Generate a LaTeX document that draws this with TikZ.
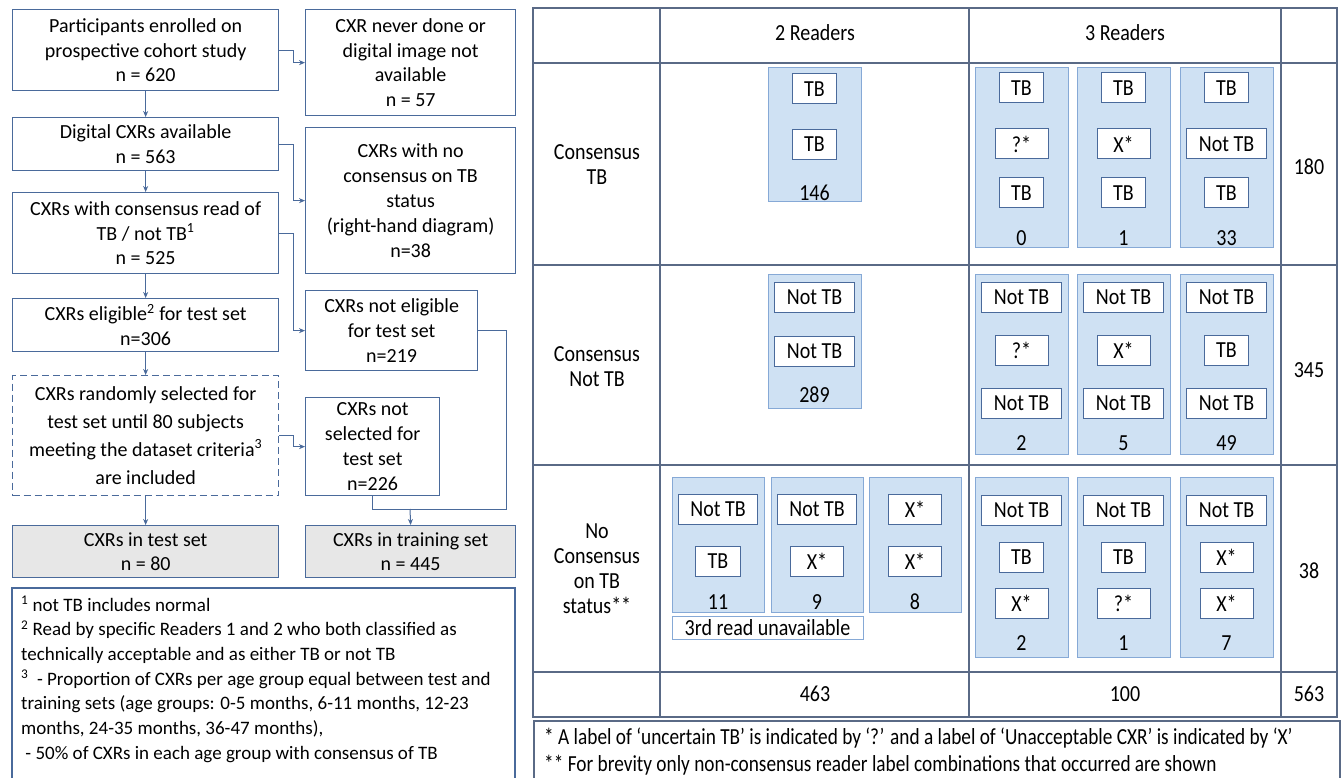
\documentclass[tikz,border=0pt]{standalone}
\usepackage{fontspec}
\setmainfont{Carlito}
\usepackage{graphicx}
\usetikzlibrary{arrows.meta}
\definecolor{bline}{HTML}{4A6A9B}
\definecolor{pfill}{HTML}{CFE1F3}
\definecolor{pline}{HTML}{86A9D6}
\definecolor{gfill}{HTML}{E7E7E7}
\definecolor{tline}{HTML}{5A6A86}
\newcommand\flowfont{\fontsize{20}{24.8}\selectfont}
\newcommand\hfont{\fontsize{20}{28}\selectfont}
\newcommand\notefont{\fontsize{19}{24.7}\selectfont}
\newcommand\tabfont{\fontsize{20}{21.7}\selectfont}
\newcommand\vsc[1]{\scalebox{1}[1.15]{#1}}
\newcommand\vsn[1]{\scalebox{0.965}[1.15]{#1}}
\begin{document}
\begin{tikzpicture}[x=1pt,y=-1pt,
  flow/.style={draw=bline, line width=1.3pt, fill=white, align=center, inner sep=0pt, anchor=north west, font=\flowfont},
  grey/.style={flow, fill=gfill},
  arr/.style={draw=bline, line width=1pt, -{Stealth[length=6pt,width=5pt]}},
  conn/.style={draw=bline, line width=1pt},
  tab/.style={draw=tline, line width=1.2pt},
  panel/.style={draw=pline, fill=pfill, line width=1pt},
  lbl/.style={draw=bline, fill=white, line width=1pt, minimum height=30, inner xsep=12, inner ysep=0, font=\tabfont},
  sym/.style={lbl, minimum width=53},
  num/.style={inner sep=0pt, font=\tabfont},
  ttxt/.style={inner sep=0pt, font=\tabfont, align=center}]
\useasboundingbox (0,0) rectangle (1341,778);
\fill[white] (0,0) rectangle (1341,778);

% ---------------- left flowchart ----------------
\node[flow, minimum width=266, minimum height=81] (A) at (12,9) {Participants enrolled on\\prospective cohort study\\n = 620};
\node[flow, minimum width=210, minimum height=106] (B) at (305,9) {CXR never done or\\digital image not\\available\\n = 57};
\node[flow, minimum width=266, minimum height=53] (C) at (12,117) {Digital CXRs available\\n = 563};
\node[flow, minimum width=210, minimum height=146] (D) at (305,127) {CXRs with no\\consensus on TB\\status\\(right-hand diagram)\\n=38};
\node[flow, minimum width=266, minimum height=81] (E) at (12,192) {CXRs with consensus read of\\TB / not TB\textsuperscript{1}\\n = 525};
\node[flow, minimum width=266, minimum height=53] (F) at (12,298) {CXRs eligible\textsuperscript{2} for test set\\n=306};
\node[flow, minimum width=172, minimum height=80] (G) at (305,290) {CXRs not eligible\\for test set\\n=219};
\node[flow, dash pattern=on 7pt off 4pt, minimum width=266, minimum height=120, font=\hfont] (H) at (12,375) {CXRs randomly selected for\\test set until 80 subjects\\meeting the dataset criteria\textsuperscript{3}\\are included};
\node[flow, minimum width=134, minimum height=98] (I) at (305,397) {CXRs not\\selected for\\test set\\n=226};
\node[grey, minimum width=266, minimum height=52] (J) at (12,525) {CXRs in test set\\n = 80};
\node[grey, minimum width=210, minimum height=52] (K) at (305,525) {CXRs in training set\\n = 445};

\draw[arr] (A.south) -- (C.north);
\draw[arr] (C.south) -- (E.north);
\draw[arr] (E.south) -- (F.north);
\draw[arr] (F.south) -- (H.north);
\draw[arr] (H.south) -- (J.north);
\draw[arr] (A.east) -- ++(14,0) |- (B.west);
\draw[arr] (C.east) -- ++(14,0) |- (D.west);
\draw[arr] (E.east) -- ++(14,0) |- (G.west);
\draw[arr] (H.east) -- ++(14,0) |- (I.west);
\coordinate (jn) at (410,509);
\draw[conn] (G.east) -- ++(28,0) |- (jn);
\draw[conn] (I.south) |- (jn);
\draw[arr] (jn) -- (K.north);

% left notes
\draw[draw=bline, line width=1.2pt] (12,779) -- (12,588) -- (515,588) -- (515,779);
\node[inner sep=0pt, anchor=north west, align=left, font=\notefont] (notesL) at (21,596) {%
\textsuperscript{1} not TB includes normal\\
\textsuperscript{2} Read by specific Readers 1 and 2 who both classified as\\
technically acceptable and as either TB or not TB\\
\textsuperscript{3}\ \ - Proportion of CXRs per age group equal between test and\\
training sets (age groups: 0-5 months, 6-11 months, 12-23\\
months, 24-35 months, 36-47 months),\\
\ - 50\% of CXRs in each age group with consensus of TB};

% ---------------- right table ----------------
\draw[tab] (533,8) rectangle (1337,717);
\foreach \xx in {660,969,1281} \draw[tab] (\xx,8) -- (\xx,717);
\foreach \yy in {63,265,465,672} \draw[tab] (533,\yy) -- (1337,\yy);

\node[num] (h2) at (815,33) {\vsc{2 Readers}};
\node[num] (h3) at (1125,33) {\vsc{3 Readers}};
\node[ttxt] (rl1) at (597,167) {\vsc{\begin{tabular}{@{}c@{}}Consensus\\TB\end{tabular}}};
\node[ttxt] (rl2) at (597,369) {\vsc{\begin{tabular}{@{}c@{}}Consensus\\Not TB\end{tabular}}};
\node[ttxt] (rl3) at (597,571) {\vsc{\begin{tabular}{@{}c@{}}No\\Consensus\\on TB\\status**\end{tabular}}};
\node[num] (t1) at (1309,167) {\vsc{180}};
\node[num] (t2) at (1309,370) {\vsc{345}};
\node[num] (t3) at (1309,571) {\vsc{38}};
\node[num] (t4) at (1309,694) {\vsc{563}};
\node[num] (s2) at (815,694) {\vsc{463}};
\node[num] (s3) at (1125,694) {\vsc{100}};

% row 1
\draw[panel] (768,68) rectangle (861,202);
\node[lbl] (a11) at (814.5,89) {\vsc{TB}};
\node[lbl] (a12) at (814.5,144.5) {\vsc{TB}};
\node[num] (a1n) at (814.5,193) {\vsc{146}};
\draw[panel] (975,68) rectangle (1068,247);
\draw[panel] (1077,68) rectangle (1170,247);
\draw[panel] (1180,68) rectangle (1273,247);
\node[lbl] (b11) at (1021.5,88) {\vsc{TB}};
\node[sym] (b12) at (1021.5,144) {\vsc{?*}};
\node[lbl] (b13) at (1021.5,193) {\vsc{TB}};
\node[num] (b1n) at (1021.5,238) {\vsc{0}};
\node[lbl] (c11) at (1123.5,88) {\vsc{TB}};
\node[sym] (c12) at (1123.5,144) {\vsc{X*}};
\node[lbl] (c13) at (1123.5,193) {\vsc{TB}};
\node[num] (c1n) at (1123.5,238) {\vsc{1}};
\node[lbl] (d11) at (1226.5,88) {\vsc{TB}};
\node[lbl] (d12) at (1226.5,144) {\vsc{Not TB}};
\node[lbl] (d13) at (1226.5,193) {\vsc{TB}};
\node[num] (d1n) at (1226.5,238) {\vsc{33}};

% row 2
\draw[panel] (768,274) rectangle (861,408);
\node[lbl] (a21) at (814.5,297) {\vsc{Not TB}};
\node[lbl] (a22) at (814.5,351) {\vsc{Not TB}};
\node[num] (a2n) at (814.5,395) {\vsc{289}};
\draw[panel] (975,274) rectangle (1068,454);
\draw[panel] (1077,274) rectangle (1170,454);
\draw[panel] (1180,274) rectangle (1273,454);
\node[lbl] (b21) at (1021.5,297) {\vsc{Not TB}};
\node[sym] (b22) at (1021.5,350.5) {\vsc{?*}};
\node[lbl] (b23) at (1021.5,403) {\vsc{Not TB}};
\node[num] (b2n) at (1021.5,443) {\vsc{2}};
\node[lbl] (c21) at (1123.5,297) {\vsc{Not TB}};
\node[sym] (c22) at (1123.5,350.5) {\vsc{X*}};
\node[lbl] (c23) at (1123.5,403) {\vsc{Not TB}};
\node[num] (c2n) at (1123.5,443) {\vsc{5}};
\node[lbl] (d21) at (1226.5,297) {\vsc{Not TB}};
\node[lbl] (d22) at (1226.5,350.5) {\vsc{TB}};
\node[lbl] (d23) at (1226.5,403) {\vsc{Not TB}};
\node[num] (d2n) at (1226.5,443) {\vsc{49}};

% row 3
\draw[panel] (672,477) rectangle (764,612);
\draw[panel] (771,477) rectangle (863,612);
\draw[panel] (869,477) rectangle (961,612);
\node[lbl] (e31) at (718,509.5) {\vsc{Not TB}};
\node[lbl] (e32) at (718,561) {\vsc{TB}};
\node[num] (e3n) at (718,602) {\vsc{11}};
\node[lbl] (f31) at (817,509.5) {\vsc{Not TB}};
\node[sym] (f32) at (817,561) {\vsc{X*}};
\node[num] (f3n) at (817,602) {\vsc{9}};
\node[sym] (g31) at (915,509.5) {\vsc{X*}};
\node[sym] (g32) at (915,561) {\vsc{X*}};
\node[num] (g3n) at (915,602) {\vsc{8}};
\node[draw=pline, fill=white, line width=1pt, minimum width=191, minimum height=23, inner sep=0pt, font=\tabfont] (rd) at (767.5,627.5) {\vsc{3rd read unavailable}};
\draw[panel] (975,477) rectangle (1068,657);
\draw[panel] (1077,477) rectangle (1170,657);
\draw[panel] (1180,477) rectangle (1273,657);
\node[lbl] (b31) at (1021.5,510.5) {\vsc{Not TB}};
\node[lbl] (b32) at (1021.5,557.5) {\vsc{TB}};
\node[sym] (b33) at (1021.5,603) {\vsc{X*}};
\node[num] (b3n) at (1021.5,643) {\vsc{2}};
\node[lbl] (c31) at (1123.5,510.5) {\vsc{Not TB}};
\node[lbl] (c32) at (1123.5,557.5) {\vsc{TB}};
\node[sym] (c33) at (1123.5,603) {\vsc{?*}};
\node[num] (c3n) at (1123.5,643) {\vsc{1}};
\node[lbl] (d31) at (1226.5,510.5) {\vsc{Not TB}};
\node[sym] (d32) at (1226.5,557.5) {\vsc{X*}};
\node[sym] (d33) at (1226.5,603) {\vsc{X*}};
\node[num] (d3n) at (1226.5,643) {\vsc{7}};

% right notes
\draw[draw=tline, line width=1.2pt] (534,779) -- (534,721) -- (1340,721) -- (1340,779);
\node[num, anchor=west] (nr1) at (544,738) {\vsn{* A label of ‘uncertain TB’ is indicated by ‘?’ and a label of ‘Unacceptable CXR’ is indicated by ‘X’}};
\node[num, anchor=west] (nr2) at (544,765) {\vsn{** For brevity only non-consensus reader label combinations that occurred are shown}};
\end{tikzpicture}
\end{document}
